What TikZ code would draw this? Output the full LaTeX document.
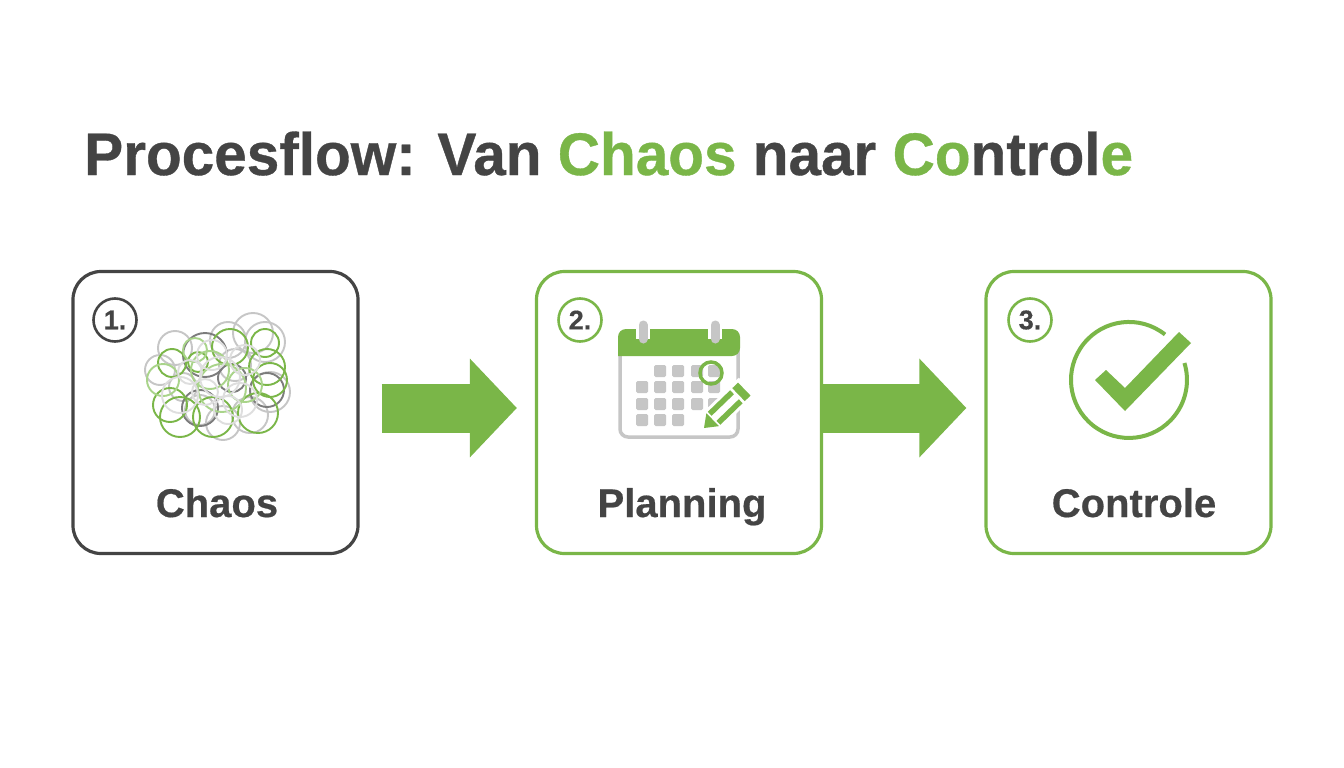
\documentclass[tikz,border=0pt]{standalone}
\usepackage{fontspec}
\setmainfont{Liberation Sans}
\newfontfamily\headfont[FakeStretch=0.975,FakeBold=0.6]{Liberation Sans Bold}
\newfontfamily\labelfont[FakeBold=0.5]{Liberation Sans Bold}
\usetikzlibrary{arrows.meta}
\definecolor{leaf}{HTML}{7AB648}
\definecolor{lightleaf}{HTML}{A9D48A}
\definecolor{ink}{HTML}{444444}
\definecolor{ash}{HTML}{C6C6C6}
\definecolor{paleash}{HTML}{DEDEDE}
\tikzset{
  stepbox/.style={draw=leaf,line width=3.2pt,rounded corners=28pt,fill=white,minimum width=285pt,minimum height=282pt},
  badge/.style={circle,draw=leaf,line width=2.6pt,minimum size=43pt,inner sep=0pt,text=ink,font=\labelfont\fontsize{27}{27}\selectfont},
  steplabel/.style={anchor=base,text=ink,font=\labelfont\fontsize{40}{40}\selectfont},
  flow/.style={draw=leaf,line width=49pt,-{Triangle[length=47pt,width=96pt]}},
}
\begin{document}
\begin{tikzpicture}[x=1pt,y=-1pt]
  \useasboundingbox (0,0) rectangle (1344,768);
  \node[anchor=base west,inner sep=0pt,text=ink,font=\headfont\fontsize{60}{60}\selectfont] (title) at (84,175)
    {Procesflow: Van \textcolor{leaf}{Chaos} naar \textcolor{leaf}{Co}ntrol\textcolor{leaf}{e}};

  \node[stepbox,draw=ink] (chaos) at (215.5,412.5) {};
  \node[stepbox] (planning) at (679,412.5) {};
  \node[stepbox] (controle) at (1128.5,412.5) {};

  \node[badge,draw=ink] (one) at (115,320) {1.};
  \node[badge] (two) at (580,320) {2.};
  \node[badge] (three) at (1030,320) {3.};

  \node[steplabel] (chaostext) at (217,517) {Chaos};
  \node[steplabel] (planningtext) at (682,517) {Planning};
  \node[steplabel] (controletext) at (1134,517) {Controle};

  \draw[flow,shorten <=22pt,shorten >=18pt] ([yshift=4.5pt]chaos.east) -- ([yshift=4.5pt]planning.west);
  \draw[flow,shorten >=18pt] ([yshift=4.5pt]planning.east) -- ([yshift=4.5pt]controle.west);

  % tangle
  \foreach \x/\y/\r/\c in {
    253/333/20/ash,265/342/20/ash,175/348/17/ash,228/340/18/ash,160/370/15/ash,
    270/392/20/ash,183/387/14/ash,223/423/17/ash,200/410/15/ash,
    250/415/18/ash,235/365/16/ash,
    205/355/22/ink!70,267/390/17/ink!70,200/408/18/ink!70,232/378/14/ink!70,
    265/343/14/leaf,172/363/14/leaf,230/347/18/leaf,267/367/18/leaf,270/380/17/leaf,
    170/405/17/leaf,180/417/20/leaf,213/417/20/leaf,258/413/20/leaf,198/362/10/leaf,
    163/380/16/lightleaf,210/370/19/lightleaf,245/385/17/lightleaf,195/350/12/lightleaf,
    222/388/24/lightleaf,
    220/377/20/paleash,190/372/12/paleash,212/355/15/paleash,240/400/17/paleash,
    180/395/18/paleash,205/392/13/paleash,245/360/15/paleash,228/410/14/paleash}
    \draw[\c,line width=1.9pt] (\x,\y) circle[radius=\r];

  % calendar
  \draw[ash,line width=3.5pt,fill=white,rounded corners=8pt] (620,332) rectangle (738,437);
  \fill[leaf,rounded corners=8pt] (618,356) -- (618,329) -- (740,329) -- (740,356) [sharp corners] -- cycle;
  \foreach \x in {643,715}
    \draw[ash,line width=9pt,line cap=round,preaction={draw=white,line width=14pt}] (\x,325) -- (\x,339);
  \foreach \x in {660,678,697,714}
    \fill[ash,rounded corners=1.5pt] (\x-6,365) rectangle (\x+6,377);
  \foreach \y in {387,404} \foreach \x in {642,660,678,697,714}
    \fill[ash,rounded corners=1.5pt] (\x-6,\y-6) rectangle (\x+6,\y+6);
  \foreach \x in {642,660,678}
    \fill[ash,rounded corners=1.5pt] (\x-6,414) rectangle (\x+6,426);
  \draw[leaf,line width=3.5pt] (711,373) circle[radius=11];
  \begin{scope}[shift={(704,428)},rotate=44]
    \fill[white] (-3,0) -- (13,-12) -- (60,-12) -- (60,12) -- (13,12) -- cycle;
    \fill[leaf] (0,0) -- (12,-9) -- (12,9) -- cycle;
    \fill[leaf] (14,-9) rectangle (45,-3.5);
    \fill[leaf] (14,3.5) rectangle (45,9);
    \fill[leaf] (48,-9) rectangle (56,9);
  \end{scope}

  % check
  \draw[leaf,line width=4pt] (1165,334.5) arc[start angle=-51.6,end angle=-377,radius=58];
  \fill[leaf] (1095,380) -- (1106,370) -- (1125,388) -- (1179,332) -- (1191,343) -- (1125,411) -- cycle;
\end{tikzpicture}
\end{document}
